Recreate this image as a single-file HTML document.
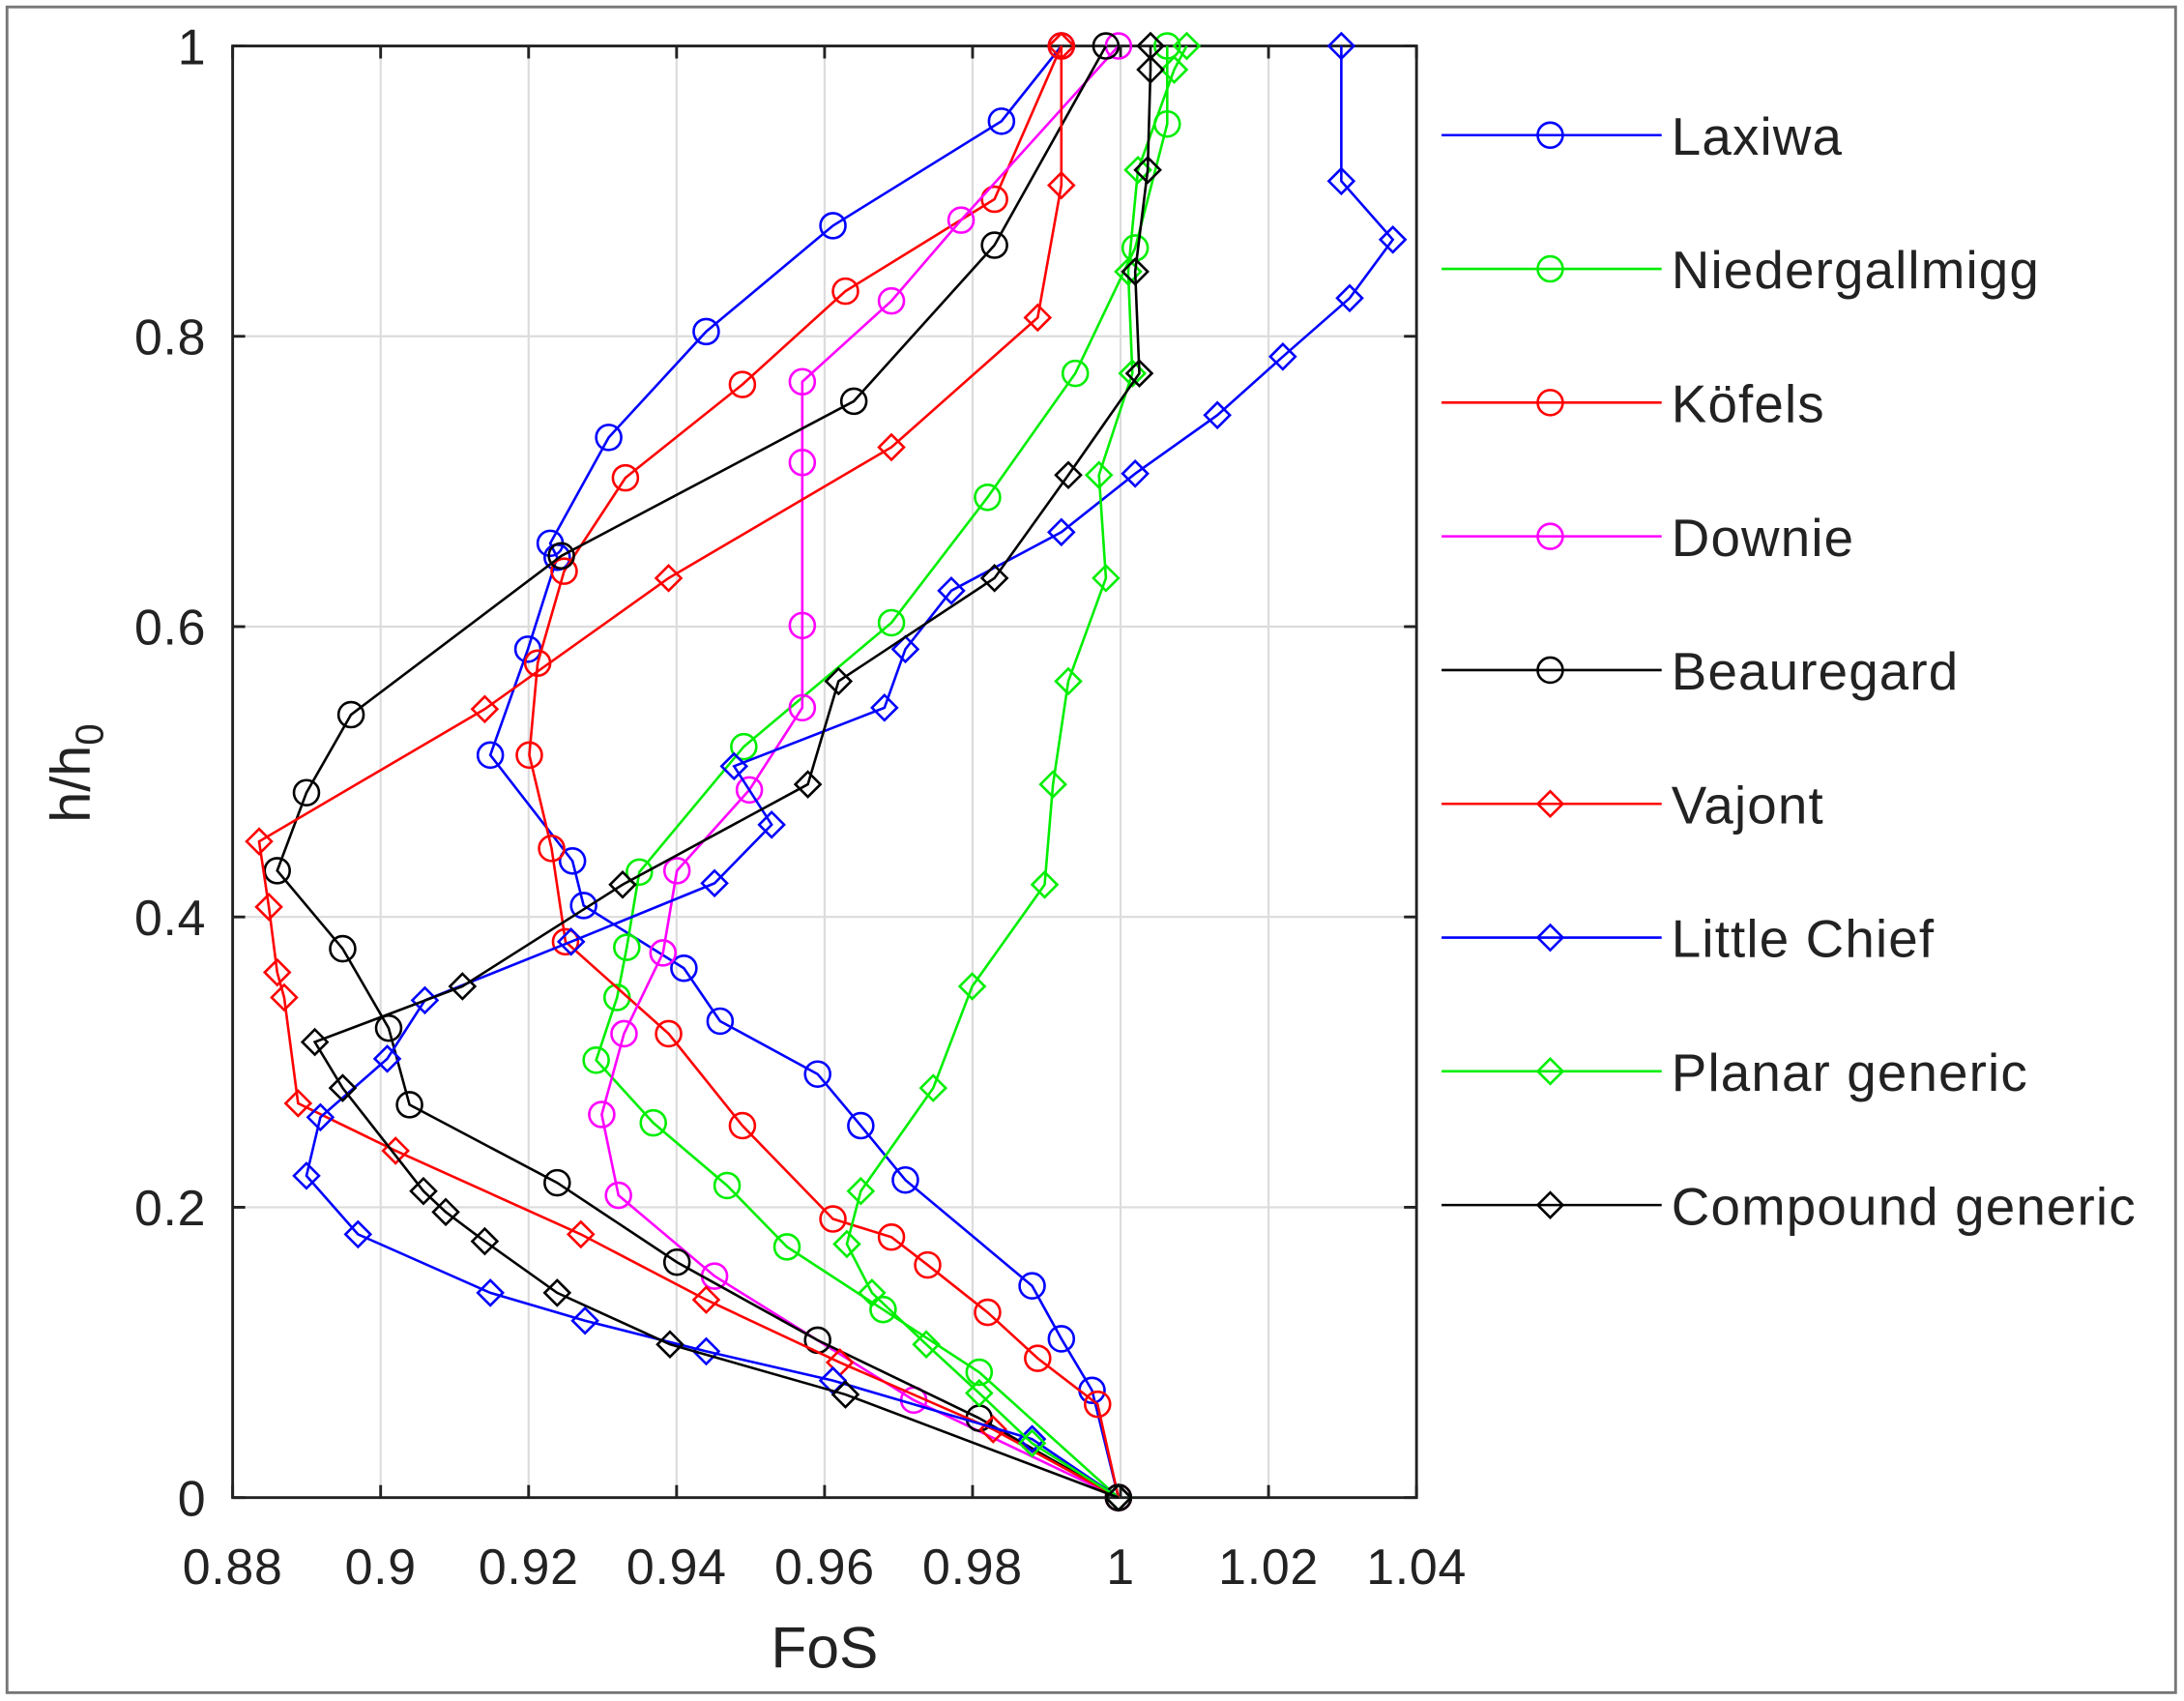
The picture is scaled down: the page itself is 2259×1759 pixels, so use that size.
<!DOCTYPE html>
<html><head><meta charset="utf-8"><style>
html,body{margin:0;padding:0;background:#fff;}
svg{display:block;font-family:"Liberation Sans","DejaVu Sans",sans-serif;}
</style></head><body>
<svg id="s" width="2259" height="1759" viewBox="0 0 1568 1221" xmlns="http://www.w3.org/2000/svg">
<rect x="0" y="0" width="1568" height="1221" fill="#fff"/>
<rect x="5" y="5" width="1557" height="1210" fill="none" stroke="#777" stroke-width="2"/>
<g id="grid" stroke="#dcdcdc" stroke-width="1.5"></g>
<rect x="167" y="33" width="850" height="1042" fill="none" stroke="#222" stroke-width="2"/>
<g id="ticks" font-size="36" fill="#222" letter-spacing="0.5"></g>
<text x="592" y="1197" font-size="42" text-anchor="middle" fill="#222">FoS</text>
<text transform="translate(64,555) rotate(-90)" font-size="40" text-anchor="middle" fill="#222">h/h<tspan font-size="28" dy="10">0</tspan></text>
<g id="data" fill="none" stroke-width="1.8"></g>
<g id="leg" font-size="38" fill="#222" letter-spacing="0.8"></g>
</svg>
<script>
var NS="http://www.w3.org/2000/svg";
function el(p,t,a,txt){var e=document.createElementNS(NS,t);for(var k in a)e.setAttribute(k,a[k]);if(txt!=null)e.textContent=txt;p.appendChild(e);return e;}
var g=document.getElementById('grid'),tk=document.getElementById('ticks');
var xl=['0.88','0.9','0.92','0.94','0.96','0.98','1','1.02','1.04'];
for(var i=0;i<9;i++){var x=167+i*106.25;if(i>0&&i<8)el(g,'line',{x1:x,y1:33,x2:x,y2:1075});
el(tk,'line',{x1:x,y1:1075,x2:x,y2:1066,stroke:'#222','stroke-width':2});el(tk,'line',{x1:x,y1:33,x2:x,y2:42,stroke:'#222','stroke-width':2});
el(tk,'text',{x:x,y:1137,'text-anchor':'middle'},xl[i]);}
var yl=['0','0.2','0.4','0.6','0.8','1'];
for(var j=0;j<6;j++){var y=1075-j*208.4;if(j>0&&j<5)el(g,'line',{x1:167,y1:y,x2:1017,y2:y});
el(tk,'line',{x1:167,y1:y,x2:176,y2:y,stroke:'#222','stroke-width':2});el(tk,'line',{x1:1017,y1:y,x2:1008,y2:y,stroke:'#222','stroke-width':2});
el(tk,'text',{x:148,y:y+13,'text-anchor':'end'},yl[j]);}
var S=[
['Laxiwa','#0000ff','o',[[762,33],[719,87],[598,162],[507,238],[437,314],[395,390],[400,400],[379,466],[352,542],[411,618],[419,650],[491,695],[517,733],[587,771],[618,808],[650,847],[741,923],[762,961],[784,998],[803,1075]]],
['Niedergallmigg','#00ee00','o',[[838,33],[838,89],[815,178],[772,268],[709,357],[640,447],[534,536],[459,626],[450,680],[443,716],[428,761],[469,806],[522,851],[565,895],[634,940],[703,985],[803,1075]]],
['Köfels','#ff0000','o',[[762,33],[714,143],[607,209],[533,276],[449,343],[405,410],[386,476],[380,542],[396,609],[406,676],[480,742],[533,808],[598,875],[640,888],[666,908],[709,942],[745,975],[788,1008],[803,1075]]],
['Downie','#ff00ff','o',[[803,33],[690,158],[640,216],[576,274],[576,332],[576,449],[576,508],[538,567],[486,625],[476,684],[448,742],[432,800],[444,858],[513,916],[656,1005],[803,1075]]],
['Beauregard','#000000','o',[[794,33],[714,176],[613,288],[403,399],[252,513],[220,569],[199,625],[246,681],[279,738],[294,793],[400,849],[486,906],[587,962],[703,1018],[803,1075]]],
['Vajont','#ff0000','d',[[762,33],[762,133],[745,228],[640,321],[480,415],[348,509],[186,604],[193,651],[199,698],[204,716],[214,792],[284,826],[417,886],[507,933],[603,978],[713,1026],[803,1075]]],
['Little Chief','#0000ff','d',[[963,33],[963,130],[1000,172],[969,214],[921,256],[874,298],[815,340],[762,382],[683,424],[650,466],[635,508],[527,550],[554,592],[513,634],[410,676],[305,718],[278,760],[230,802],[220,844],[257,886],[352,928],[420,948],[507,970],[598,991],[741,1033],[803,1075]]],
['Planar generic','#00ee00','d',[[852,33],[843,50],[817,122],[810,195],[813,268],[789,341],[794,415],[767,489],[756,563],[750,635],[698,708],[670,781],[618,855],[608,893],[626,928],[665,965],[703,1000],[741,1036],[803,1075]]],
['Compound generic','#000000','d',[[826,33],[826,50],[824,122],[815,195],[818,268],[767,341],[714,415],[602,489],[580,563],[447,635],[332,708],[226,748],[246,781],[304,855],[320,870],[348,891],[400,928],[481,965],[607,1001],[803,1075]]]
];
var d=document.getElementById('data'),lg=document.getElementById('leg');
function mk(p,t,x,y,c){if(t=='o')el(p,'circle',{cx:x,cy:y,r:9,stroke:c,fill:'none','stroke-width':1.8});
else el(p,'polygon',{points:(x)+','+(y-9)+' '+(x+9)+','+y+' '+x+','+(y+9)+' '+(x-9)+','+y,stroke:c,fill:'none','stroke-width':1.8});}
S.forEach(function(s,k){var pts=s[3].map(function(p){return p.join(',')}).join(' ');
el(d,'polyline',{points:pts,stroke:s[1],fill:'none','stroke-width':1.8});
s[3].forEach(function(p){mk(d,s[2],p[0],p[1],s[1]);});
var ly=97+k*96;el(lg,'line',{x1:1035,y1:ly,x2:1193,y2:ly,stroke:s[1],'stroke-width':1.8});mk(lg,s[2],1113,ly,s[1]);
el(lg,'text',{x:1200,y:ly+14},s[0]);});
</script>
</body></html>
